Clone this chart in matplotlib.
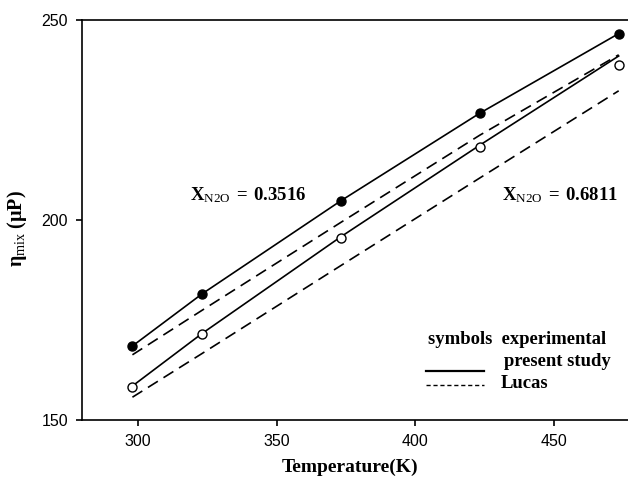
import matplotlib
matplotlib.use("agg")
import matplotlib.pyplot as plt

plt.rcParams['mathtext.fontset'] = 'custom'
plt.rcParams['mathtext.rm'] = 'Liberation Serif'
plt.rcParams['mathtext.bf'] = 'Liberation Serif:bold'
plt.rcParams['mathtext.it'] = 'Liberation Serif:italic'

# mixture viscosity vs temperature, two N2O mole fractions
temps = [298.15, 323.15, 373.15, 423.15, 473.15]

exp_3516 = [168.5, 181.5, 204.8, 226.7, 246.6]
exp_6811 = [158.3, 171.5, 195.5, 218.3, 238.8]

present_3516 = [168.5, 181.5, 204.8, 226.7, 246.6]
present_6811 = [158.5, 171.6, 195.8, 218.7, 241.0]

lucas_3516 = [166.3, 177.4, 199.4, 221.2, 241.3]
lucas_6811 = [155.7, 166.6, 188.6, 210.5, 232.3]

serif = 'Liberation Serif'
sans = 'Liberation Sans'

fig = plt.figure(figsize=(6.28, 4.79), dpi=100)
ax = fig.add_axes([82 / 628, 59 / 479, 546 / 628, 400 / 479])

dash = (0, (7, 4))
ax.plot(temps, present_3516, color='black', lw=1.2)
ax.plot(temps, present_6811, color='black', lw=1.2)
ax.plot(temps, lucas_3516, color='black', lw=1.2, linestyle=dash)
ax.plot(temps, lucas_6811, color='black', lw=1.2, linestyle=dash)
ax.plot(temps, exp_3516, 'o', color='black', ms=6.5, zorder=3)
ax.plot(temps, exp_6811, 'o', mfc='white', mec='black', mew=1.0, ms=6.5, zorder=3)

ax.set_xlim(280, 476.5)
ax.set_ylim(150, 250)
ax.set_xticks([300, 350, 400, 450])
ax.set_yticks([150, 200, 250])
ax.spines['right'].set_visible(False)
for s in ['left', 'top', 'bottom']:
    ax.spines[s].set_linewidth(1.2)
ax.tick_params(direction='out', length=4, width=1.2, labelsize=11.5, pad=6)
for lab in ax.get_xticklabels() + ax.get_yticklabels():
    lab.set_family(sans)

ax.set_xlabel('Temperature(K)', family=serif, fontweight='bold', fontsize=14)
ax.xaxis.set_label_coords(0.49, -0.097)
ax.set_ylabel(r'$\mathbf{\eta}_{\mathrm{mix}}\ \mathbf{(\mu P)}$', fontsize=14.5)
ax.yaxis.set_label_coords(-0.097, 0.48)

ax.text(318.8, 205, r'$\mathbf{X}_{\mathrm{N2O}}\;\mathbf{=}\;\mathbf{0.3516}$',
        fontsize=13.5, va='baseline')
ax.text(431, 205, r'$\mathbf{X}_{\mathrm{N2O}}\;\mathbf{=}\;\mathbf{0.6811}$',
        fontsize=13.5, va='baseline')

# hand-made legend block
ax.text(0.634, 0.2, 'symbols  experimental', transform=ax.transAxes, family=serif,
        fontweight='bold', fontsize=13.4, va='center')
ax.text(0.773, 0.145, 'present study', transform=ax.transAxes, family=serif,
        fontweight='bold', fontsize=13.4, va='center')
ax.text(0.767, 0.09, 'Lucas', transform=ax.transAxes, family=serif,
        fontweight='bold', fontsize=13.4, va='center')
ax.plot([0.630, 0.736], [0.1225, 0.1225], transform=ax.transAxes, color='black', lw=1.6)
ax.plot([0.630, 0.736], [0.0875, 0.0875], transform=ax.transAxes, color='black', lw=1.0,
        linestyle=(0, (3, 2)))

plt.savefig('out.png', dpi=100)
